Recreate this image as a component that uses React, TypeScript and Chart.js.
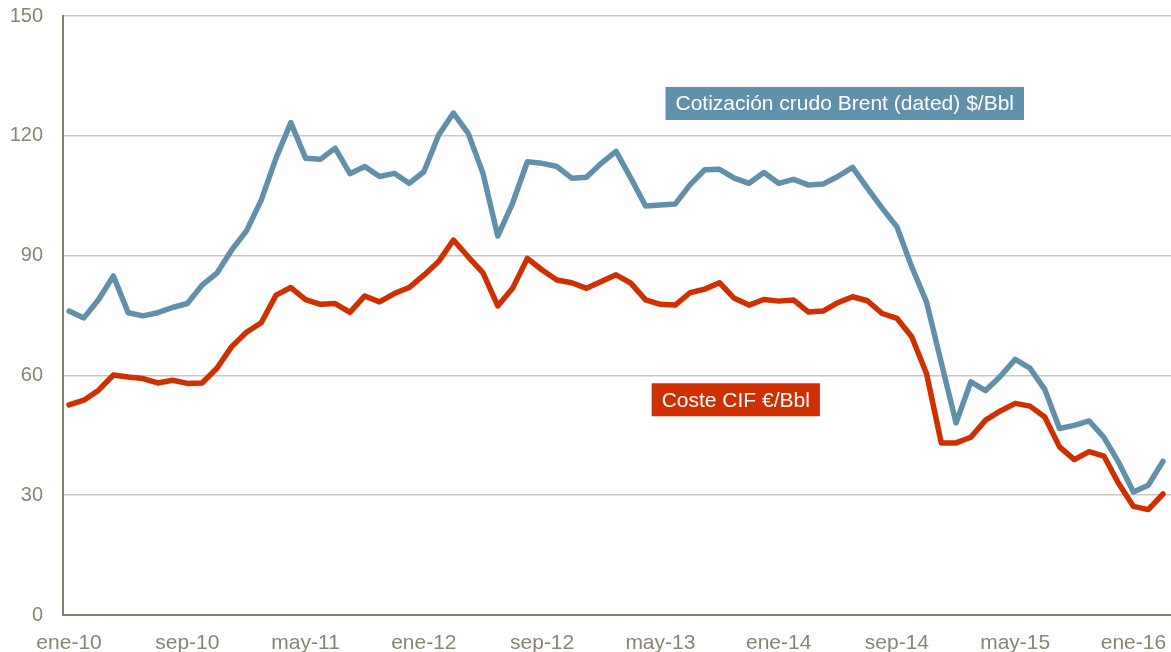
import React, { useEffect, useRef } from "react";
import { Chart, registerables } from "chart.js";

Chart.register(...registerables);

// Monthly series, ene-10 .. mar-16 (75 months)
const brentUsd: number[] = [
  76.1, 74.4, 79.0, 84.9, 75.7, 74.9, 75.7, 77.0, 78.0, 82.6, 85.6, 91.4,
  96.2, 103.9, 114.4, 123.3, 114.4, 114.1, 116.9, 110.5, 112.3, 109.8, 110.6, 108.1,
  111.0, 120.2, 125.7, 120.6, 110.6, 94.9, 103.1, 113.5, 113.1, 112.3, 109.4, 109.6,
  113.1, 116.1, 109.4, 102.4, 102.7, 102.9, 107.7, 111.5, 111.6, 109.4, 108.1, 110.8,
  108.1, 109.1, 107.7, 107.9, 109.8, 112.1, 106.9, 101.9, 97.2, 87.2, 78.4, 63.2,
  48.1, 58.4, 56.2, 59.8, 64.0, 61.8, 56.5, 46.7, 47.5, 48.6, 44.5, 38.2,
  30.8, 32.5, 38.5,
];

const costeCifEur: number[] = [
  52.6, 53.8, 56.3, 60.1, 59.6, 59.2, 58.1, 58.8, 58.0, 58.1, 61.8, 67.2,
  70.8, 73.2, 80.1, 82.0, 79.0, 77.8, 78.0, 75.8, 79.9, 78.4, 80.5, 82.0,
  85.1, 88.5, 93.9, 89.7, 85.7, 77.4, 81.8, 89.3, 86.4, 83.9, 83.2, 81.8,
  83.5, 85.2, 83.1, 78.9, 77.8, 77.6, 80.7, 81.6, 83.2, 79.3, 77.6, 79.0,
  78.6, 78.9, 75.9, 76.1, 78.2, 79.7, 78.7, 75.5, 74.3, 69.7, 60.5, 43.1,
  43.1, 44.5, 48.8, 51.1, 53.0, 52.3, 49.6, 42.1, 38.9, 40.9, 39.8, 32.9,
  27.2, 26.4, 30.3,
];

const xTickLabels: string[] = [
  "ene-10", "sep-10", "may-11", "ene-12", "sep-12",
  "may-13", "ene-14", "sep-14", "may-15", "ene-16",
];
const xTickStep = 8;
const yTickValues: number[] = [0, 30, 60, 90, 120, 150];

const seriesNames: string[] = [
  "Cotización crudo Brent (dated) $/Bbl",
  "Coste CIF €/Bbl",
];

const BLUE = "#6190aa";
const RED = "#d02f00";
const AXIS = "#877f6b";
const GRID = "#cbc6bf";
const TICK = "#8c8472";
const FONT = "'Liberation Sans', Arial, sans-serif";

// label anchors in data coordinates (x index, y value)
const labelAnchors = [
  { x: 52.47, y: 128.1, color: BLUE },
  { x: 45.1, y: 53.9, color: RED },
];

const labelPlugin = {
  id: "seriesLabels",
  afterDatasetsDraw(chart: any) {
    const { ctx, scales } = chart;
    ctx.save();
    ctx.font = `21px ${FONT}`;
    ctx.textAlign = "center";
    ctx.textBaseline = "middle";
    labelAnchors.forEach((a, i) => {
      const cx = scales.x.getPixelForValue(a.x);
      const cy = scales.y.getPixelForValue(a.y);
      const text = seriesNames[i];
      const w = ctx.measureText(text).width + 20;
      const h = 33;
      ctx.fillStyle = a.color;
      ctx.fillRect(cx - w / 2, cy - h / 2, w, h);
      ctx.fillStyle = "#ffffff";
      ctx.fillText(text, cx, cy + 1);
    });
    ctx.restore();
  },
};

export default function App() {
  const ref = useRef<HTMLCanvasElement | null>(null);

  useEffect(() => {
    if (!ref.current) return;
    const toPts = (arr: number[]) => arr.map((v, i) => ({ x: i, y: v }));
    const chart = new Chart(ref.current, {
      type: "line",
      data: {
        datasets: [
          {
            label: seriesNames[0],
            data: toPts(brentUsd),
            borderColor: BLUE,
            borderWidth: 5.5,
            pointRadius: 0,
            tension: 0,
            borderJoinStyle: "round",
            borderCapStyle: "round",
          },
          {
            label: seriesNames[1],
            data: toPts(costeCifEur),
            borderColor: RED,
            borderWidth: 5.5,
            pointRadius: 0,
            tension: 0,
            borderJoinStyle: "round",
            borderCapStyle: "round",
          },
        ],
      },
      options: {
        animation: false,
        responsive: true,
        maintainAspectRatio: false,
        layout: { padding: { top: 16, right: 0, left: 0, bottom: 0 } },
        plugins: {
          legend: { display: false },
          tooltip: { enabled: false },
        },
        scales: {
          x: {
            type: "linear",
            min: -0.41,
            max: 74.54,
            grid: { display: false },
            border: { display: true, color: AXIS, width: 2 },
            afterBuildTicks: (scale: any) => {
              scale.ticks = xTickLabels.map((_, i) => ({ value: i * xTickStep }));
            },
            afterFit: (scale: any) => {
              scale.height = 37;
              scale.paddingLeft = 0;
              scale.paddingRight = 0;
            },
            ticks: {
              autoSkip: false,
              maxRotation: 0,
              padding: 8,
              color: TICK,
              font: { family: FONT, size: 21 },
              callback: (v: any) => xTickLabels[Math.round(Number(v) / xTickStep)] ?? "",
            },
          },
          y: {
            min: 0,
            max: 150,
            afterBuildTicks: (scale: any) => {
              scale.ticks = yTickValues.map((v) => ({ value: v }));
            },
            afterFit: (scale: any) => {
              scale.width = 63;
              scale.paddingTop = 0;
              scale.paddingBottom = 0;
            },
            grid: {
              color: GRID,
              lineWidth: 1.5,
              drawTicks: false,
            },
            border: { display: true, color: AXIS, width: 2 },
            ticks: {
              padding: 20,
              color: TICK,
              font: { family: FONT, size: 20 },
            },
          },
        },
      },
      plugins: [labelPlugin],
    });
    return () => chart.destroy();
  }, []);

  return (
    <div style={{ position: "fixed", left: 0, top: 0, width: 1171, height: 652, background: "#fff" }}>
      <canvas ref={ref} />
    </div>
  );
}
